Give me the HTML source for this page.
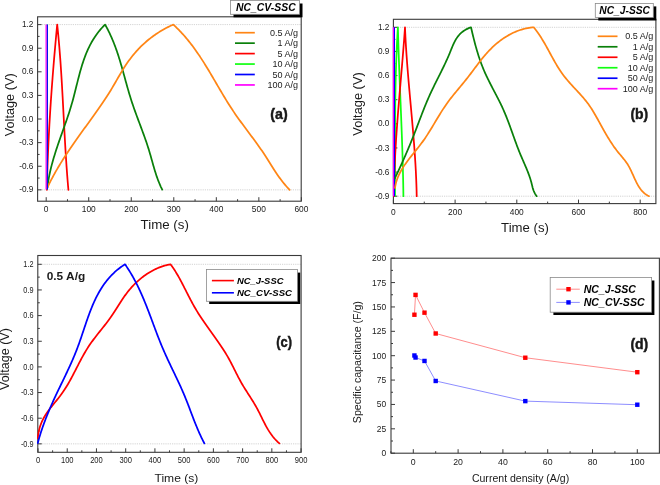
<!DOCTYPE html><html><head><meta charset="utf-8"><style>html,body{margin:0;padding:0;background:#fff;}svg{display:block;will-change:transform;}text{font-family:"Liberation Sans", sans-serif;}</style></head><body>
<svg width="660" height="485" viewBox="0 0 660 485">
<rect width="660" height="485" fill="#fff"/>
<line x1="37.6" y1="24.6" x2="301.2" y2="24.6" stroke="#c8c8c8" stroke-width="0.8" stroke-dasharray="1.2,1"/>
<line x1="37.6" y1="189.85" x2="301.2" y2="189.85" stroke="#c8c8c8" stroke-width="0.8" stroke-dasharray="1.2,1"/>
<rect x="37.6" y="16.8" width="263.6" height="184.4" fill="none" stroke="#3a3a3a" stroke-width="1.1"/>
<line x1="37.6" y1="189.85" x2="41.6" y2="189.85" stroke="#3a3a3a" stroke-width="1.0" />
<line x1="37.6" y1="166.24" x2="41.6" y2="166.24" stroke="#3a3a3a" stroke-width="1.0" />
<line x1="37.6" y1="142.63" x2="41.6" y2="142.63" stroke="#3a3a3a" stroke-width="1.0" />
<line x1="37.6" y1="119.03" x2="41.6" y2="119.03" stroke="#3a3a3a" stroke-width="1.0" />
<line x1="37.6" y1="95.42" x2="41.6" y2="95.42" stroke="#3a3a3a" stroke-width="1.0" />
<line x1="37.6" y1="71.81" x2="41.6" y2="71.81" stroke="#3a3a3a" stroke-width="1.0" />
<line x1="37.6" y1="48.21" x2="41.6" y2="48.21" stroke="#3a3a3a" stroke-width="1.0" />
<line x1="37.6" y1="24.6" x2="41.6" y2="24.6" stroke="#3a3a3a" stroke-width="1.0" />
<line x1="37.6" y1="178.05" x2="39.6" y2="178.05" stroke="#3a3a3a" stroke-width="1.0" />
<line x1="37.6" y1="154.44" x2="39.6" y2="154.44" stroke="#3a3a3a" stroke-width="1.0" />
<line x1="37.6" y1="130.83" x2="39.6" y2="130.83" stroke="#3a3a3a" stroke-width="1.0" />
<line x1="37.6" y1="107.22" x2="39.6" y2="107.22" stroke="#3a3a3a" stroke-width="1.0" />
<line x1="37.6" y1="83.62" x2="39.6" y2="83.62" stroke="#3a3a3a" stroke-width="1.0" />
<line x1="37.6" y1="60.01" x2="39.6" y2="60.01" stroke="#3a3a3a" stroke-width="1.0" />
<line x1="37.6" y1="36.4" x2="39.6" y2="36.4" stroke="#3a3a3a" stroke-width="1.0" />
<line x1="46.2" y1="201.2" x2="46.2" y2="197.2" stroke="#3a3a3a" stroke-width="1.0" />
<line x1="88.73" y1="201.2" x2="88.73" y2="197.2" stroke="#3a3a3a" stroke-width="1.0" />
<line x1="131.26" y1="201.2" x2="131.26" y2="197.2" stroke="#3a3a3a" stroke-width="1.0" />
<line x1="173.79" y1="201.2" x2="173.79" y2="197.2" stroke="#3a3a3a" stroke-width="1.0" />
<line x1="216.32" y1="201.2" x2="216.32" y2="197.2" stroke="#3a3a3a" stroke-width="1.0" />
<line x1="258.85" y1="201.2" x2="258.85" y2="197.2" stroke="#3a3a3a" stroke-width="1.0" />
<line x1="301.38" y1="201.2" x2="301.38" y2="197.2" stroke="#3a3a3a" stroke-width="1.0" />
<line x1="67.47" y1="201.2" x2="67.47" y2="199.2" stroke="#3a3a3a" stroke-width="1.0" />
<line x1="110" y1="201.2" x2="110" y2="199.2" stroke="#3a3a3a" stroke-width="1.0" />
<line x1="152.53" y1="201.2" x2="152.53" y2="199.2" stroke="#3a3a3a" stroke-width="1.0" />
<line x1="195.06" y1="201.2" x2="195.06" y2="199.2" stroke="#3a3a3a" stroke-width="1.0" />
<line x1="237.58" y1="201.2" x2="237.58" y2="199.2" stroke="#3a3a3a" stroke-width="1.0" />
<line x1="280.12" y1="201.2" x2="280.12" y2="199.2" stroke="#3a3a3a" stroke-width="1.0" />
<path d="M46.9,189.8 L46.93,188.28 L46.96,186.76 L46.99,185.24 L47.03,183.73 L47.06,182.21 L47.1,180.69 L47.14,179.17 L47.18,177.65 L47.22,176.14 L47.26,174.62 L47.31,173.1 L47.35,171.58 L47.4,170.06 L47.45,168.55 L47.5,167.03 L47.55,165.51 L47.6,163.99 L47.65,162.47 L47.71,160.96 L47.76,159.44 L47.82,157.92 L47.88,156.4 L47.94,154.89 L48,153.37 L48.07,151.85 L48.13,150.33 L48.2,148.82 L48.26,147.3 L48.33,145.78 L48.4,144.26 L48.47,142.75 L48.54,141.23 L48.62,139.71 L48.69,138.19 L48.77,136.68 L48.84,135.16 L48.92,133.64 L49,132.13 L49.08,130.61 L49.16,129.09 L49.24,127.58 L49.33,126.06 L49.41,124.54 L49.5,123.03 L49.59,121.51 L49.68,119.99 L49.77,118.48 L49.86,116.96 L49.95,115.44 L50.04,113.93 L50.13,112.41 L50.23,110.9 L50.33,109.38 L50.42,107.86 L50.52,106.35 L50.62,104.83 L50.72,103.32 L50.82,101.8 L50.93,100.28 L51.03,98.77 L51.13,97.25 L51.24,95.74 L51.35,94.22 L51.45,92.71 L51.56,91.19 L51.67,89.68 L51.78,88.16 L51.89,86.65 L52.01,85.13 L52.12,83.62 L52.23,82.1 L52.35,80.59 L52.47,79.07 L52.58,77.56 L52.7,76.04 L52.82,74.53 L52.94,73.02 L53.06,71.5 L53.18,69.99 L53.3,68.47 L53.43,66.96 L53.55,65.44 L53.68,63.93 L53.8,62.42 L53.93,60.9 L54.06,59.39 L54.18,57.88 L54.31,56.36 L54.44,54.85 L54.57,53.34 L54.71,51.82 L54.84,50.31 L54.97,48.8 L55.11,47.28 L55.24,45.77 L55.38,44.26 L55.51,42.75 L55.65,41.23 L55.79,39.72 L55.92,38.21 L56.06,36.7 L56.2,35.18 L56.34,33.67 L56.48,32.16 L56.63,30.65 L56.77,29.13 L56.91,27.62 L57.05,26.11 L57.2,24.6 L57.2,24.6 L57.36,26.11 L57.52,27.62 L57.68,29.13 L57.83,30.64 L57.98,32.15 L58.13,33.66 L58.27,35.17 L58.41,36.68 L58.55,38.2 L58.69,39.71 L58.83,41.22 L58.96,42.73 L59.09,44.24 L59.22,45.76 L59.35,47.27 L59.47,48.78 L59.59,50.3 L59.71,51.81 L59.83,53.32 L59.95,54.84 L60.06,56.35 L60.18,57.87 L60.29,59.38 L60.4,60.9 L60.51,62.41 L60.61,63.93 L60.72,65.44 L60.82,66.96 L60.92,68.47 L61.02,69.99 L61.12,71.5 L61.22,73.02 L61.32,74.53 L61.41,76.05 L61.51,77.57 L61.6,79.08 L61.69,80.6 L61.78,82.12 L61.87,83.63 L61.96,85.15 L62.05,86.67 L62.13,88.18 L62.22,89.7 L62.3,91.22 L62.39,92.74 L62.47,94.25 L62.56,95.77 L62.64,97.29 L62.72,98.8 L62.8,100.32 L62.88,101.84 L62.96,103.36 L63.04,104.88 L63.12,106.39 L63.2,107.91 L63.28,109.43 L63.36,110.95 L63.44,112.46 L63.52,113.98 L63.6,115.5 L63.68,117.02 L63.76,118.54 L63.84,120.05 L63.92,121.57 L64,123.09 L64.08,124.61 L64.16,126.13 L64.24,127.64 L64.32,129.16 L64.4,130.68 L64.48,132.2 L64.56,133.71 L64.65,135.23 L64.73,136.75 L64.81,138.27 L64.9,139.78 L64.98,141.3 L65.07,142.82 L65.16,144.34 L65.25,145.85 L65.33,147.37 L65.42,148.89 L65.52,150.4 L65.61,151.92 L65.7,153.44 L65.8,154.95 L65.89,156.47 L65.99,157.99 L66.09,159.5 L66.19,161.02 L66.29,162.54 L66.39,164.05 L66.49,165.57 L66.6,167.08 L66.71,168.6 L66.82,170.11 L66.93,171.63 L67.04,173.15 L67.15,174.66 L67.27,176.17 L67.39,177.69 L67.51,179.2 L67.63,180.72 L67.75,182.23 L67.88,183.75 L68,185.26 L68.13,186.77 L68.27,188.29 L68.4,189.8" fill="none" stroke="#ff0000" stroke-width="1.75" stroke-linejoin="round" stroke-linecap="round"/>
<path d="M47.4,188 L47.57,186.48 L47.76,184.97 L47.96,183.46 L48.18,181.95 L48.42,180.45 L48.67,178.95 L48.94,177.45 L49.22,175.96 L49.52,174.47 L49.83,172.99 L50.15,171.51 L50.49,170.03 L50.84,168.55 L51.2,167.08 L51.57,165.61 L51.96,164.14 L52.35,162.68 L52.75,161.21 L53.17,159.75 L53.59,158.3 L54.03,156.84 L54.47,155.38 L54.92,153.93 L55.37,152.48 L55.84,151.03 L56.31,149.58 L56.78,148.13 L57.26,146.69 L57.75,145.24 L58.24,143.79 L58.74,142.35 L59.24,140.91 L59.74,139.46 L60.25,138.02 L60.76,136.58 L61.27,135.13 L61.78,133.69 L62.3,132.25 L62.81,130.8 L63.33,129.36 L63.84,127.91 L64.35,126.47 L64.87,125.02 L65.37,123.57 L65.88,122.12 L66.38,120.67 L66.88,119.22 L67.38,117.77 L67.87,116.32 L68.35,114.86 L68.83,113.4 L69.31,111.94 L69.77,110.48 L70.23,109.01 L70.68,107.55 L71.13,106.08 L71.56,104.6 L71.98,103.13 L72.4,101.65 L72.81,100.17 L73.21,98.69 L73.6,97.21 L73.99,95.72 L74.37,94.24 L74.75,92.75 L75.13,91.27 L75.5,89.78 L75.87,88.29 L76.24,86.81 L76.61,85.33 L76.98,83.84 L77.36,82.36 L77.73,80.88 L78.1,79.41 L78.48,77.93 L78.87,76.46 L79.26,74.99 L79.65,73.53 L80.05,72.06 L80.46,70.61 L80.87,69.15 L81.3,67.71 L81.73,66.26 L82.17,64.82 L82.63,63.39 L83.1,61.97 L83.57,60.55 L84.07,59.13 L84.57,57.73 L85.09,56.33 L85.63,54.94 L86.18,53.55 L86.75,52.18 L87.34,50.81 L87.94,49.45 L88.57,48.1 L89.21,46.76 L89.88,45.43 L90.57,44.11 L91.27,42.8 L92.01,41.5 L92.76,40.21 L93.54,38.93 L94.35,37.67 L95.18,36.41 L96.04,35.17 L96.93,33.94 L97.84,32.73 L98.78,31.52 L99.76,30.33 L100.76,29.16 L101.8,28 L102.86,26.85 L103.96,25.71 L105.1,24.6 L105.1,24.6 L105.88,25.99 L106.63,27.38 L107.37,28.77 L108.08,30.16 L108.78,31.56 L109.46,32.96 L110.12,34.36 L110.77,35.76 L111.4,37.16 L112.01,38.57 L112.6,39.97 L113.19,41.38 L113.75,42.79 L114.31,44.21 L114.85,45.62 L115.38,47.03 L115.9,48.45 L116.4,49.87 L116.9,51.29 L117.38,52.71 L117.85,54.13 L118.32,55.56 L118.78,56.98 L119.22,58.41 L119.67,59.84 L120.1,61.27 L120.53,62.7 L120.95,64.13 L121.37,65.57 L121.78,67 L122.19,68.44 L122.59,69.87 L122.99,71.31 L123.39,72.75 L123.79,74.19 L124.19,75.63 L124.58,77.07 L124.98,78.51 L125.38,79.95 L125.77,81.4 L126.17,82.84 L126.57,84.29 L126.98,85.73 L127.38,87.18 L127.79,88.63 L128.21,90.08 L128.63,91.53 L129.05,92.97 L129.49,94.42 L129.92,95.87 L130.37,97.33 L130.82,98.78 L131.28,100.23 L131.76,101.68 L132.23,103.13 L132.72,104.58 L133.22,106.04 L133.72,107.49 L134.23,108.94 L134.75,110.4 L135.27,111.85 L135.8,113.3 L136.33,114.76 L136.87,116.21 L137.41,117.66 L137.95,119.12 L138.49,120.57 L139.03,122.02 L139.58,123.48 L140.12,124.93 L140.67,126.38 L141.21,127.83 L141.75,129.29 L142.29,130.74 L142.82,132.19 L143.35,133.64 L143.88,135.09 L144.4,136.54 L144.92,137.99 L145.43,139.44 L145.94,140.89 L146.43,142.34 L146.92,143.79 L147.4,145.23 L147.87,146.68 L148.33,148.13 L148.78,149.57 L149.22,151.01 L149.65,152.46 L150.08,153.9 L150.49,155.34 L150.9,156.78 L151.3,158.22 L151.71,159.66 L152.11,161.1 L152.51,162.54 L152.91,163.97 L153.32,165.41 L153.73,166.84 L154.15,168.27 L154.58,169.7 L155.01,171.13 L155.46,172.56 L155.92,173.99 L156.39,175.42 L156.88,176.84 L157.38,178.27 L157.9,179.69 L158.45,181.11 L159.01,182.53 L159.6,183.95 L160.21,185.36 L160.84,186.78 L161.51,188.19 L162.2,189.6" fill="none" stroke="#0a800a" stroke-width="1.75" stroke-linejoin="round" stroke-linecap="round"/>
<path d="M47.4,187.5 L48.05,186.13 L48.72,184.77 L49.39,183.42 L50.07,182.07 L50.76,180.72 L51.45,179.38 L52.16,178.05 L52.87,176.72 L53.59,175.39 L54.32,174.07 L55.06,172.75 L55.8,171.44 L56.55,170.13 L57.31,168.83 L58.07,167.53 L58.85,166.24 L59.62,164.94 L60.41,163.66 L61.2,162.37 L61.99,161.09 L62.8,159.81 L63.6,158.54 L64.42,157.27 L65.24,156 L66.06,154.73 L66.89,153.47 L67.72,152.21 L68.56,150.95 L69.4,149.7 L70.25,148.45 L71.1,147.19 L71.96,145.95 L72.82,144.7 L73.68,143.45 L74.55,142.21 L75.42,140.97 L76.29,139.73 L77.17,138.49 L78.05,137.25 L78.93,136.01 L79.81,134.78 L80.7,133.54 L81.59,132.31 L82.48,131.08 L83.37,129.84 L84.26,128.61 L85.16,127.38 L86.05,126.14 L86.95,124.91 L87.85,123.68 L88.74,122.45 L89.64,121.21 L90.53,119.98 L91.43,118.75 L92.32,117.51 L93.21,116.28 L94.1,115.04 L94.99,113.8 L95.87,112.56 L96.75,111.32 L97.63,110.08 L98.5,108.84 L99.37,107.59 L100.24,106.35 L101.1,105.1 L101.96,103.85 L102.81,102.59 L103.65,101.34 L104.49,100.08 L105.32,98.82 L106.15,97.56 L106.97,96.29 L107.78,95.03 L108.59,93.76 L109.39,92.48 L110.17,91.2 L110.96,89.92 L111.73,88.64 L112.49,87.35 L113.25,86.06 L114.01,84.77 L114.75,83.48 L115.5,82.19 L116.25,80.9 L116.99,79.61 L117.74,78.31 L118.49,77.02 L119.24,75.74 L119.99,74.45 L120.75,73.17 L121.52,71.89 L122.29,70.61 L123.07,69.34 L123.86,68.08 L124.67,66.82 L125.48,65.56 L126.31,64.31 L127.15,63.07 L128.01,61.84 L128.88,60.61 L129.77,59.4 L130.68,58.19 L131.61,56.99 L132.55,55.8 L133.51,54.63 L134.48,53.46 L135.48,52.31 L136.49,51.17 L137.51,50.04 L138.56,48.92 L139.62,47.82 L140.7,46.73 L141.79,45.66 L142.91,44.6 L144.04,43.56 L145.18,42.53 L146.34,41.52 L147.52,40.53 L148.71,39.55 L149.92,38.59 L151.14,37.65 L152.37,36.73 L153.61,35.82 L154.87,34.93 L156.13,34.07 L157.41,33.22 L158.69,32.39 L159.99,31.57 L161.29,30.78 L162.6,30.01 L163.92,29.26 L165.24,28.53 L166.58,27.82 L167.91,27.13 L169.25,26.47 L170.6,25.82 L171.95,25.2 L173.3,24.6 L173.3,24.6 L174.44,25.65 L175.57,26.72 L176.68,27.79 L177.78,28.87 L178.86,29.96 L179.92,31.06 L180.97,32.17 L182.01,33.29 L183.03,34.41 L184.04,35.54 L185.04,36.69 L186.02,37.83 L186.99,38.99 L187.95,40.15 L188.9,41.33 L189.84,42.5 L190.76,43.69 L191.68,44.88 L192.58,46.08 L193.47,47.28 L194.36,48.49 L195.24,49.71 L196.1,50.93 L196.96,52.15 L197.81,53.39 L198.65,54.62 L199.49,55.86 L200.31,57.11 L201.13,58.36 L201.95,59.62 L202.76,60.88 L203.56,62.14 L204.36,63.4 L205.15,64.68 L205.94,65.95 L206.72,67.23 L207.5,68.5 L208.27,69.79 L209.05,71.07 L209.81,72.36 L210.58,73.65 L211.35,74.94 L212.11,76.23 L212.87,77.53 L213.63,78.82 L214.39,80.12 L215.15,81.42 L215.9,82.72 L216.66,84.02 L217.42,85.32 L218.18,86.62 L218.94,87.92 L219.7,89.22 L220.47,90.52 L221.24,91.82 L222.01,93.12 L222.78,94.41 L223.56,95.71 L224.34,97.01 L225.12,98.3 L225.91,99.59 L226.7,100.88 L227.5,102.17 L228.3,103.46 L229.11,104.74 L229.93,106.02 L230.75,107.3 L231.58,108.57 L232.42,109.84 L233.26,111.11 L234.11,112.38 L234.97,113.64 L235.84,114.9 L236.71,116.15 L237.6,117.4 L238.48,118.65 L239.38,119.89 L240.27,121.13 L241.18,122.37 L242.08,123.61 L242.99,124.85 L243.9,126.08 L244.82,127.31 L245.73,128.54 L246.65,129.77 L247.56,131 L248.48,132.22 L249.4,133.45 L250.31,134.67 L251.22,135.9 L252.13,137.12 L253.04,138.34 L253.95,139.57 L254.85,140.79 L255.74,142.01 L256.63,143.24 L257.52,144.46 L258.39,145.69 L259.26,146.92 L260.13,148.15 L260.98,149.38 L261.83,150.61 L262.67,151.84 L263.5,153.08 L264.31,154.32 L265.12,155.56 L265.92,156.8 L266.72,158.04 L267.5,159.29 L268.29,160.54 L269.07,161.78 L269.85,163.03 L270.63,164.27 L271.41,165.52 L272.2,166.76 L272.99,168.01 L273.78,169.25 L274.58,170.49 L275.4,171.73 L276.22,172.96 L277.05,174.19 L277.9,175.42 L278.76,176.65 L279.64,177.87 L280.53,179.09 L281.45,180.3 L282.38,181.51 L283.33,182.71 L284.31,183.91 L285.32,185.1 L286.34,186.29 L287.4,187.47 L288.49,188.64 L289.6,189.8" fill="none" stroke="#ff8515" stroke-width="1.75" stroke-linejoin="round" stroke-linecap="round"/>
<line x1="47.3" y1="189.5" x2="47.3" y2="24.6" stroke="#10ff10" stroke-width="1.2" />
<line x1="47.3" y1="189.5" x2="47.3" y2="24.6" stroke="#0000ff" stroke-width="1.25" />
<line x1="46.1" y1="189.5" x2="46.1" y2="24.6" stroke="#ff00ff" stroke-width="1.2" />
<text transform="translate(33.4,192.45) scale(0.92,1)" font-size="9" text-anchor="end" font-weight="normal" font-style="normal" fill="#1a1a1a" >-0.9</text>
<text transform="translate(33.4,168.84) scale(0.92,1)" font-size="9" text-anchor="end" font-weight="normal" font-style="normal" fill="#1a1a1a" >-0.6</text>
<text transform="translate(33.4,145.23) scale(0.92,1)" font-size="9" text-anchor="end" font-weight="normal" font-style="normal" fill="#1a1a1a" >-0.3</text>
<text transform="translate(33.4,121.63) scale(0.92,1)" font-size="9" text-anchor="end" font-weight="normal" font-style="normal" fill="#1a1a1a" >0.0</text>
<text transform="translate(33.4,98.02) scale(0.92,1)" font-size="9" text-anchor="end" font-weight="normal" font-style="normal" fill="#1a1a1a" >0.3</text>
<text transform="translate(33.4,74.41) scale(0.92,1)" font-size="9" text-anchor="end" font-weight="normal" font-style="normal" fill="#1a1a1a" >0.6</text>
<text transform="translate(33.4,50.81) scale(0.92,1)" font-size="9" text-anchor="end" font-weight="normal" font-style="normal" fill="#1a1a1a" >0.9</text>
<text transform="translate(33.4,27.2) scale(0.92,1)" font-size="9" text-anchor="end" font-weight="normal" font-style="normal" fill="#1a1a1a" >1.2</text>
<text x="46.2" y="212.2" font-size="8.4" text-anchor="middle" font-weight="normal" font-style="normal" fill="#1a1a1a" >0</text>
<text x="88.73" y="212.2" font-size="8.4" text-anchor="middle" font-weight="normal" font-style="normal" fill="#1a1a1a" >100</text>
<text x="131.26" y="212.2" font-size="8.4" text-anchor="middle" font-weight="normal" font-style="normal" fill="#1a1a1a" >200</text>
<text x="173.79" y="212.2" font-size="8.4" text-anchor="middle" font-weight="normal" font-style="normal" fill="#1a1a1a" >300</text>
<text x="216.32" y="212.2" font-size="8.4" text-anchor="middle" font-weight="normal" font-style="normal" fill="#1a1a1a" >400</text>
<text x="258.85" y="212.2" font-size="8.4" text-anchor="middle" font-weight="normal" font-style="normal" fill="#1a1a1a" >500</text>
<text x="301.38" y="212.2" font-size="8.4" text-anchor="middle" font-weight="normal" font-style="normal" fill="#1a1a1a" >600</text>
<text x="140.6" y="228.6" font-size="12.6" text-anchor="start" font-weight="normal" font-style="normal" fill="#1a1a1a" textLength="48.3" lengthAdjust="spacingAndGlyphs" >Time (s)</text>
<text x="0" y="0" font-size="12.6" text-anchor="start" font-weight="normal" font-style="normal" fill="#1a1a1a" textLength="63" lengthAdjust="spacingAndGlyphs" transform="translate(14.1,136.3) rotate(-90)">Voltage (V)</text>
<line x1="235" y1="32.7" x2="254.8" y2="32.7" stroke="#ff8515" stroke-width="1.7" />
<text x="298.1" y="35.8" font-size="9" text-anchor="end" font-weight="normal" font-style="normal" fill="#1a1a1a" >0.5 A/g</text>
<line x1="235" y1="43.15" x2="254.8" y2="43.15" stroke="#0a800a" stroke-width="1.7" />
<text x="298.1" y="46.25" font-size="9" text-anchor="end" font-weight="normal" font-style="normal" fill="#1a1a1a" >1 A/g</text>
<line x1="235" y1="53.6" x2="254.8" y2="53.6" stroke="#ff0000" stroke-width="1.7" />
<text x="298.1" y="56.7" font-size="9" text-anchor="end" font-weight="normal" font-style="normal" fill="#1a1a1a" >5 A/g</text>
<line x1="235" y1="64.05" x2="254.8" y2="64.05" stroke="#10ff10" stroke-width="1.7" />
<text x="298.1" y="67.15" font-size="9" text-anchor="end" font-weight="normal" font-style="normal" fill="#1a1a1a" >10 A/g</text>
<line x1="235" y1="74.5" x2="254.8" y2="74.5" stroke="#0000ff" stroke-width="1.7" />
<text x="298.1" y="77.6" font-size="9" text-anchor="end" font-weight="normal" font-style="normal" fill="#1a1a1a" >50 A/g</text>
<line x1="235" y1="84.95" x2="254.8" y2="84.95" stroke="#ff00ff" stroke-width="1.7" />
<text x="298.1" y="88.05" font-size="9" text-anchor="end" font-weight="normal" font-style="normal" fill="#1a1a1a" >100 A/g</text>
<text x="270.3" y="118.8" font-size="15.5" text-anchor="start" font-weight="bold" font-style="normal" fill="#1a1a1a" textLength="17.4" lengthAdjust="spacingAndGlyphs" stroke="#111" stroke-width="0.45">(a)</text>
<rect x="233.5" y="3.5" width="69" height="13.8" fill="#000" stroke="none" stroke-width="1"/>
<rect x="230.5" y="0.5" width="69" height="13.8" fill="#fff" stroke="#8a8a8a" stroke-width="0.8"/>
<text x="236" y="11.3" font-size="10.2" text-anchor="start" font-weight="bold" font-style="italic" fill="#000" textLength="59.7" lengthAdjust="spacingAndGlyphs" >NC_CV-SSC</text>
<line x1="393.4" y1="27.3" x2="655.9" y2="27.3" stroke="#c8c8c8" stroke-width="0.8" stroke-dasharray="1.2,1"/>
<line x1="393.4" y1="196.2" x2="655.9" y2="196.2" stroke="#c8c8c8" stroke-width="0.8" stroke-dasharray="1.2,1"/>
<rect x="393.4" y="19.3" width="262.5" height="184.3" fill="none" stroke="#3a3a3a" stroke-width="1.1"/>
<line x1="393.4" y1="196.2" x2="397.4" y2="196.2" stroke="#3a3a3a" stroke-width="1.0" />
<line x1="393.4" y1="172.07" x2="397.4" y2="172.07" stroke="#3a3a3a" stroke-width="1.0" />
<line x1="393.4" y1="147.95" x2="397.4" y2="147.95" stroke="#3a3a3a" stroke-width="1.0" />
<line x1="393.4" y1="123.82" x2="397.4" y2="123.82" stroke="#3a3a3a" stroke-width="1.0" />
<line x1="393.4" y1="99.69" x2="397.4" y2="99.69" stroke="#3a3a3a" stroke-width="1.0" />
<line x1="393.4" y1="75.56" x2="397.4" y2="75.56" stroke="#3a3a3a" stroke-width="1.0" />
<line x1="393.4" y1="51.43" x2="397.4" y2="51.43" stroke="#3a3a3a" stroke-width="1.0" />
<line x1="393.4" y1="27.3" x2="397.4" y2="27.3" stroke="#3a3a3a" stroke-width="1.0" />
<line x1="393.4" y1="184.14" x2="395.4" y2="184.14" stroke="#3a3a3a" stroke-width="1.0" />
<line x1="393.4" y1="160.01" x2="395.4" y2="160.01" stroke="#3a3a3a" stroke-width="1.0" />
<line x1="393.4" y1="135.88" x2="395.4" y2="135.88" stroke="#3a3a3a" stroke-width="1.0" />
<line x1="393.4" y1="111.75" x2="395.4" y2="111.75" stroke="#3a3a3a" stroke-width="1.0" />
<line x1="393.4" y1="87.62" x2="395.4" y2="87.62" stroke="#3a3a3a" stroke-width="1.0" />
<line x1="393.4" y1="63.49" x2="395.4" y2="63.49" stroke="#3a3a3a" stroke-width="1.0" />
<line x1="393.4" y1="39.36" x2="395.4" y2="39.36" stroke="#3a3a3a" stroke-width="1.0" />
<line x1="393.4" y1="203.6" x2="393.4" y2="199.6" stroke="#3a3a3a" stroke-width="1.0" />
<line x1="455.1" y1="203.6" x2="455.1" y2="199.6" stroke="#3a3a3a" stroke-width="1.0" />
<line x1="516.8" y1="203.6" x2="516.8" y2="199.6" stroke="#3a3a3a" stroke-width="1.0" />
<line x1="578.5" y1="203.6" x2="578.5" y2="199.6" stroke="#3a3a3a" stroke-width="1.0" />
<line x1="640.2" y1="203.6" x2="640.2" y2="199.6" stroke="#3a3a3a" stroke-width="1.0" />
<line x1="424.25" y1="203.6" x2="424.25" y2="201.6" stroke="#3a3a3a" stroke-width="1.0" />
<line x1="485.95" y1="203.6" x2="485.95" y2="201.6" stroke="#3a3a3a" stroke-width="1.0" />
<line x1="547.65" y1="203.6" x2="547.65" y2="201.6" stroke="#3a3a3a" stroke-width="1.0" />
<line x1="609.35" y1="203.6" x2="609.35" y2="201.6" stroke="#3a3a3a" stroke-width="1.0" />
<path d="M395,196.2 L395.01,194.68 L395.01,193.16 L395.01,191.63 L395.02,190.11 L395.02,188.59 L395.02,187.07 L395.03,185.55 L395.03,184.03 L395.03,182.5 L395.03,180.98 L395.03,179.46 L395.03,177.94 L395.03,176.42 L395.03,174.89 L395.03,173.37 L395.03,171.85 L395.03,170.33 L395.03,168.8 L395.03,167.28 L395.03,165.76 L395.03,164.24 L395.03,162.72 L395.03,161.19 L395.03,159.67 L395.03,158.15 L395.03,156.63 L395.03,155.1 L395.03,153.58 L395.03,152.06 L395.03,150.54 L395.03,149.02 L395.03,147.49 L395.03,145.97 L395.03,144.45 L395.04,142.93 L395.04,141.4 L395.04,139.88 L395.04,138.36 L395.05,136.84 L395.05,135.32 L395.05,133.79 L395.06,132.27 L395.06,130.75 L395.07,129.23 L395.07,127.7 L395.08,126.18 L395.09,124.66 L395.1,123.14 L395.1,121.62 L395.11,120.09 L395.12,118.57 L395.13,117.05 L395.15,115.53 L395.16,114 L395.17,112.48 L395.18,110.96 L395.2,109.44 L395.21,107.92 L395.23,106.39 L395.25,104.87 L395.26,103.35 L395.28,101.83 L395.3,100.31 L395.32,98.78 L395.35,97.26 L395.37,95.74 L395.39,94.22 L395.42,92.7 L395.45,91.18 L395.47,89.65 L395.5,88.13 L395.53,86.61 L395.56,85.09 L395.6,83.57 L395.63,82.05 L395.66,80.52 L395.7,79 L395.74,77.48 L395.78,75.96 L395.82,74.44 L395.86,72.92 L395.9,71.4 L395.95,69.87 L395.99,68.35 L396.04,66.83 L396.09,65.31 L396.14,63.79 L396.19,62.27 L396.25,60.75 L396.3,59.23 L396.36,57.71 L396.42,56.19 L396.48,54.66 L396.55,53.14 L396.61,51.62 L396.68,50.1 L396.74,48.58 L396.81,47.06 L396.89,45.54 L396.96,44.02 L397.03,42.5 L397.11,40.98 L397.19,39.46 L397.27,37.94 L397.36,36.42 L397.44,34.9 L397.53,33.38 L397.62,31.86 L397.71,30.34 L397.8,28.82 L397.9,27.3 L397.9,27.3 L397.94,28.82 L397.98,30.34 L398.02,31.87 L398.06,33.39 L398.1,34.91 L398.14,36.43 L398.19,37.95 L398.23,39.48 L398.28,41 L398.32,42.52 L398.37,44.04 L398.42,45.56 L398.46,47.09 L398.51,48.61 L398.56,50.13 L398.61,51.65 L398.67,53.17 L398.72,54.69 L398.77,56.22 L398.82,57.74 L398.88,59.26 L398.93,60.78 L398.99,62.3 L399.04,63.82 L399.1,65.34 L399.15,66.87 L399.21,68.39 L399.27,69.91 L399.33,71.43 L399.38,72.95 L399.44,74.47 L399.5,75.99 L399.56,77.52 L399.62,79.04 L399.68,80.56 L399.74,82.08 L399.8,83.6 L399.86,85.12 L399.92,86.64 L399.98,88.16 L400.04,89.69 L400.1,91.21 L400.17,92.73 L400.23,94.25 L400.29,95.77 L400.35,97.29 L400.41,98.81 L400.47,100.33 L400.53,101.86 L400.6,103.38 L400.66,104.9 L400.72,106.42 L400.78,107.94 L400.84,109.46 L400.9,110.98 L400.96,112.5 L401.02,114.03 L401.08,115.55 L401.14,117.07 L401.2,118.59 L401.26,120.11 L401.32,121.63 L401.38,123.15 L401.44,124.67 L401.5,126.2 L401.56,127.72 L401.61,129.24 L401.67,130.76 L401.73,132.28 L401.78,133.8 L401.84,135.32 L401.89,136.85 L401.95,138.37 L402,139.89 L402.05,141.41 L402.11,142.93 L402.16,144.45 L402.21,145.97 L402.26,147.5 L402.31,149.02 L402.36,150.54 L402.41,152.06 L402.46,153.58 L402.5,155.1 L402.55,156.63 L402.6,158.15 L402.64,159.67 L402.68,161.19 L402.73,162.71 L402.77,164.23 L402.81,165.76 L402.85,167.28 L402.89,168.8 L402.93,170.32 L402.96,171.84 L403,173.37 L403.04,174.89 L403.07,176.41 L403.1,177.93 L403.13,179.45 L403.16,180.98 L403.19,182.5 L403.22,184.02 L403.25,185.54 L403.27,187.07 L403.3,188.59 L403.32,190.11 L403.34,191.63 L403.36,193.15 L403.38,194.68 L403.4,196.2" fill="none" stroke="#10ff10" stroke-width="1.75" stroke-linejoin="round" stroke-linecap="round"/>
<path d="M394,196.2 L394.01,194.67 L394.02,193.15 L394.03,191.62 L394.04,190.1 L394.06,188.57 L394.09,187.05 L394.11,185.52 L394.14,183.99 L394.17,182.47 L394.21,180.95 L394.24,179.42 L394.28,177.9 L394.33,176.37 L394.37,174.85 L394.42,173.32 L394.47,171.8 L394.52,170.27 L394.58,168.75 L394.64,167.23 L394.7,165.7 L394.76,164.18 L394.83,162.66 L394.9,161.13 L394.97,159.61 L395.04,158.09 L395.12,156.56 L395.19,155.04 L395.27,153.52 L395.35,151.99 L395.44,150.47 L395.52,148.95 L395.61,147.43 L395.7,145.91 L395.79,144.38 L395.88,142.86 L395.98,141.34 L396.07,139.82 L396.17,138.29 L396.27,136.77 L396.37,135.25 L396.48,133.73 L396.58,132.21 L396.69,130.69 L396.8,129.16 L396.9,127.64 L397.02,126.12 L397.13,124.6 L397.24,123.08 L397.35,121.56 L397.47,120.04 L397.59,118.52 L397.7,117 L397.82,115.47 L397.94,113.95 L398.06,112.43 L398.18,110.91 L398.31,109.39 L398.43,107.87 L398.55,106.35 L398.68,104.83 L398.8,103.31 L398.93,101.79 L399.06,100.27 L399.18,98.75 L399.31,97.23 L399.44,95.71 L399.57,94.19 L399.7,92.67 L399.83,91.15 L399.95,89.63 L400.08,88.11 L400.21,86.59 L400.35,85.07 L400.48,83.55 L400.61,82.03 L400.74,80.51 L400.87,78.99 L401,77.47 L401.13,75.95 L401.26,74.43 L401.39,72.91 L401.52,71.39 L401.65,69.87 L401.78,68.35 L401.91,66.83 L402.04,65.31 L402.16,63.79 L402.29,62.27 L402.42,60.75 L402.55,59.23 L402.67,57.71 L402.8,56.19 L402.92,54.67 L403.05,53.15 L403.17,51.62 L403.29,50.1 L403.41,48.58 L403.53,47.06 L403.65,45.54 L403.77,44.02 L403.89,42.5 L404.01,40.98 L404.12,39.46 L404.24,37.94 L404.35,36.42 L404.46,34.9 L404.57,33.38 L404.68,31.86 L404.79,30.34 L404.89,28.82 L405,27.3 L405,27.3 L405.06,28.82 L405.13,30.35 L405.19,31.87 L405.26,33.4 L405.34,34.92 L405.41,36.44 L405.49,37.97 L405.57,39.49 L405.65,41.01 L405.74,42.53 L405.83,44.06 L405.92,45.58 L406.01,47.1 L406.11,48.62 L406.21,50.15 L406.31,51.67 L406.41,53.19 L406.51,54.71 L406.62,56.23 L406.73,57.75 L406.84,59.27 L406.95,60.79 L407.06,62.32 L407.18,63.84 L407.29,65.36 L407.41,66.88 L407.53,68.4 L407.65,69.92 L407.78,71.44 L407.9,72.96 L408.03,74.48 L408.15,76 L408.28,77.52 L408.41,79.04 L408.54,80.56 L408.67,82.08 L408.8,83.6 L408.93,85.12 L409.07,86.64 L409.2,88.16 L409.33,89.68 L409.47,91.19 L409.61,92.71 L409.74,94.23 L409.88,95.75 L410.01,97.27 L410.15,98.79 L410.29,100.31 L410.43,101.83 L410.56,103.35 L410.7,104.87 L410.84,106.39 L410.98,107.91 L411.11,109.43 L411.25,110.95 L411.39,112.47 L411.52,113.99 L411.66,115.5 L411.79,117.02 L411.93,118.54 L412.06,120.06 L412.2,121.58 L412.33,123.1 L412.46,124.62 L412.6,126.14 L412.73,127.66 L412.86,129.18 L412.98,130.7 L413.11,132.22 L413.24,133.74 L413.36,135.26 L413.49,136.78 L413.61,138.3 L413.73,139.82 L413.85,141.35 L413.97,142.87 L414.09,144.39 L414.2,145.91 L414.32,147.43 L414.43,148.95 L414.54,150.47 L414.65,151.99 L414.75,153.52 L414.86,155.04 L414.96,156.56 L415.06,158.08 L415.16,159.6 L415.25,161.13 L415.35,162.65 L415.44,164.17 L415.53,165.7 L415.61,167.22 L415.7,168.74 L415.78,170.27 L415.86,171.79 L415.93,173.31 L416,174.84 L416.07,176.36 L416.14,177.89 L416.21,179.41 L416.27,180.94 L416.33,182.46 L416.38,183.99 L416.43,185.51 L416.48,187.04 L416.53,188.57 L416.57,190.09 L416.61,191.62 L416.64,193.15 L416.67,194.67 L416.7,196.2" fill="none" stroke="#ff0000" stroke-width="1.75" stroke-linejoin="round" stroke-linecap="round"/>
<line x1="394.4" y1="196.2" x2="394.4" y2="27.3" stroke="#0000ff" stroke-width="1.2" />
<line x1="393.4" y1="196.2" x2="393.4" y2="27.3" stroke="#ff00ff" stroke-width="1.2" />
<path d="M395,178 L395.66,176.62 L396.32,175.24 L396.98,173.86 L397.63,172.48 L398.28,171.1 L398.93,169.71 L399.57,168.33 L400.21,166.94 L400.85,165.56 L401.48,164.17 L402.11,162.78 L402.73,161.39 L403.36,160 L403.97,158.6 L404.59,157.21 L405.2,155.82 L405.81,154.42 L406.41,153.02 L407.01,151.63 L407.6,150.23 L408.2,148.83 L408.78,147.44 L409.37,146.04 L409.95,144.64 L410.53,143.24 L411.1,141.84 L411.67,140.44 L412.24,139.04 L412.8,137.63 L413.35,136.23 L413.91,134.83 L414.46,133.43 L415,132.03 L415.55,130.62 L416.09,129.22 L416.62,127.82 L417.16,126.41 L417.69,125.01 L418.23,123.61 L418.76,122.21 L419.29,120.8 L419.83,119.4 L420.36,118 L420.9,116.6 L421.44,115.19 L421.98,113.79 L422.52,112.39 L423.07,110.99 L423.62,109.59 L424.18,108.19 L424.74,106.79 L425.31,105.39 L425.88,103.99 L426.47,102.59 L427.05,101.2 L427.65,99.8 L428.25,98.4 L428.87,97.01 L429.49,95.61 L430.12,94.22 L430.76,92.83 L431.41,91.43 L432.07,90.04 L432.73,88.65 L433.4,87.26 L434.08,85.87 L434.76,84.48 L435.45,83.1 L436.14,81.71 L436.83,80.32 L437.52,78.94 L438.22,77.55 L438.91,76.17 L439.61,74.79 L440.3,73.41 L440.98,72.02 L441.67,70.64 L442.35,69.26 L443.03,67.88 L443.7,66.5 L444.36,65.13 L445.01,63.75 L445.66,62.37 L446.3,60.99 L446.92,59.62 L447.54,58.24 L448.15,56.87 L448.74,55.49 L449.32,54.12 L449.88,52.75 L450.43,51.38 L450.98,50.01 L451.52,48.65 L452.07,47.3 L452.63,45.97 L453.21,44.64 L453.81,43.34 L454.43,42.06 L455.09,40.8 L455.79,39.57 L456.54,38.37 L457.34,37.2 L458.19,36.07 L459.11,34.98 L460.09,33.92 L461.15,32.91 L462.29,31.95 L463.51,31.03 L464.81,30.17 L466.21,29.36 L467.71,28.61 L469.3,27.92 L471,27.3 L471,27.3 L471.35,28.79 L471.7,30.28 L472.05,31.77 L472.4,33.25 L472.76,34.72 L473.12,36.19 L473.48,37.66 L473.84,39.12 L474.22,40.58 L474.59,42.04 L474.97,43.49 L475.36,44.93 L475.76,46.38 L476.16,47.82 L476.57,49.26 L476.99,50.69 L477.42,52.12 L477.85,53.55 L478.3,54.98 L478.75,56.4 L479.22,57.82 L479.7,59.24 L480.19,60.65 L480.7,62.06 L481.21,63.47 L481.74,64.88 L482.29,66.28 L482.84,67.69 L483.42,69.09 L484.01,70.49 L484.61,71.88 L485.23,73.28 L485.87,74.67 L486.52,76.06 L487.18,77.45 L487.85,78.84 L488.53,80.23 L489.23,81.62 L489.93,83.01 L490.63,84.39 L491.35,85.77 L492.06,87.16 L492.78,88.54 L493.5,89.92 L494.23,91.3 L494.95,92.68 L495.67,94.07 L496.39,95.45 L497.1,96.83 L497.81,98.21 L498.52,99.59 L499.21,100.97 L499.9,102.35 L500.58,103.73 L501.25,105.11 L501.9,106.49 L502.54,107.88 L503.17,109.26 L503.78,110.64 L504.38,112.03 L504.97,113.41 L505.55,114.8 L506.11,116.19 L506.67,117.58 L507.21,118.97 L507.75,120.35 L508.28,121.74 L508.8,123.14 L509.31,124.53 L509.82,125.92 L510.33,127.31 L510.83,128.7 L511.33,130.1 L511.83,131.49 L512.33,132.89 L512.82,134.28 L513.32,135.68 L513.82,137.08 L514.32,138.48 L514.82,139.87 L515.32,141.27 L515.84,142.67 L516.35,144.07 L516.87,145.47 L517.4,146.87 L517.94,148.28 L518.49,149.68 L519.04,151.08 L519.61,152.48 L520.18,153.89 L520.77,155.29 L521.37,156.7 L521.97,158.1 L522.58,159.51 L523.2,160.91 L523.81,162.32 L524.42,163.73 L525.03,165.14 L525.63,166.54 L526.23,167.95 L526.81,169.36 L527.38,170.77 L527.94,172.18 L528.48,173.59 L529,175 L529.51,176.41 L529.98,177.82 L530.44,179.24 L530.86,180.65 L531.25,182.06 L531.62,183.47 L531.96,184.89 L532.3,186.3 L532.66,187.71 L533.08,189.13 L533.56,190.54 L534.14,191.96 L534.84,193.37 L535.69,194.79 L536.7,196.2" fill="none" stroke="#0a800a" stroke-width="1.75" stroke-linejoin="round" stroke-linecap="round"/>
<path d="M395,188 L395.22,186.49 L395.5,185.01 L395.83,183.54 L396.21,182.1 L396.64,180.68 L397.11,179.28 L397.62,177.89 L398.18,176.53 L398.78,175.18 L399.41,173.84 L400.08,172.52 L400.78,171.22 L401.52,169.93 L402.28,168.65 L403.07,167.38 L403.89,166.12 L404.73,164.87 L405.59,163.63 L406.47,162.4 L407.37,161.18 L408.28,159.96 L409.21,158.75 L410.15,157.54 L411.1,156.34 L412.05,155.14 L413.01,153.94 L413.98,152.74 L414.94,151.54 L415.91,150.34 L416.87,149.14 L417.83,147.94 L418.79,146.73 L419.73,145.52 L420.67,144.31 L421.59,143.09 L422.5,141.86 L423.39,140.63 L424.26,139.38 L425.12,138.14 L425.97,136.88 L426.8,135.62 L427.63,134.36 L428.44,133.09 L429.24,131.81 L430.03,130.54 L430.82,129.26 L431.6,127.98 L432.37,126.7 L433.14,125.41 L433.91,124.13 L434.67,122.85 L435.44,121.56 L436.2,120.28 L436.96,119.01 L437.73,117.73 L438.5,116.46 L439.27,115.19 L440.05,113.92 L440.84,112.66 L441.63,111.4 L442.43,110.14 L443.24,108.89 L444.06,107.65 L444.89,106.41 L445.74,105.17 L446.59,103.95 L447.47,102.72 L448.35,101.5 L449.26,100.29 L450.18,99.09 L451.11,97.89 L452.05,96.69 L453,95.5 L453.96,94.31 L454.93,93.12 L455.9,91.94 L456.88,90.75 L457.86,89.57 L458.84,88.39 L459.82,87.21 L460.81,86.03 L461.79,84.85 L462.77,83.66 L463.74,82.48 L464.71,81.29 L465.67,80.1 L466.62,78.91 L467.56,77.71 L468.5,76.51 L469.42,75.3 L470.34,74.1 L471.25,72.89 L472.16,71.68 L473.07,70.47 L473.97,69.27 L474.87,68.06 L475.78,66.86 L476.68,65.66 L477.58,64.46 L478.49,63.27 L479.41,62.09 L480.33,60.91 L481.26,59.73 L482.19,58.57 L483.14,57.41 L484.09,56.26 L485.06,55.12 L486.04,53.99 L487.04,52.88 L488.05,51.77 L489.07,50.68 L490.12,49.6 L491.17,48.53 L492.25,47.48 L493.34,46.45 L494.45,45.43 L495.58,44.44 L496.72,43.46 L497.88,42.5 L499.05,41.56 L500.24,40.64 L501.45,39.74 L502.68,38.87 L503.92,38.02 L505.18,37.2 L506.46,36.4 L507.76,35.63 L509.07,34.88 L510.4,34.17 L511.74,33.48 L513.11,32.83 L514.49,32.2 L515.88,31.61 L517.3,31.05 L518.72,30.52 L520.17,30.03 L521.62,29.57 L523.09,29.15 L524.57,28.77 L526.07,28.42 L527.57,28.12 L529.09,27.85 L530.62,27.63 L532.15,27.44 L533.7,27.3 L533.7,27.3 L534.69,28.53 L535.66,29.77 L536.59,31.01 L537.51,32.27 L538.4,33.53 L539.26,34.79 L540.11,36.07 L540.94,37.35 L541.75,38.63 L542.54,39.92 L543.32,41.21 L544.09,42.51 L544.84,43.81 L545.58,45.11 L546.32,46.42 L547.04,47.73 L547.76,49.03 L548.48,50.34 L549.19,51.65 L549.9,52.96 L550.61,54.27 L551.32,55.58 L552.03,56.88 L552.75,58.19 L553.47,59.49 L554.2,60.79 L554.93,62.08 L555.68,63.37 L556.43,64.66 L557.2,65.94 L557.98,67.21 L558.78,68.48 L559.59,69.74 L560.43,71 L561.28,72.24 L562.15,73.48 L563.04,74.71 L563.96,75.93 L564.9,77.15 L565.87,78.35 L566.86,79.54 L567.86,80.73 L568.89,81.91 L569.92,83.08 L570.97,84.25 L572.02,85.41 L573.09,86.57 L574.15,87.73 L575.22,88.88 L576.29,90.02 L577.35,91.17 L578.41,92.32 L579.46,93.46 L580.5,94.6 L581.53,95.75 L582.54,96.9 L583.54,98.04 L584.51,99.19 L585.46,100.35 L586.39,101.51 L587.29,102.67 L588.16,103.84 L589,105.01 L589.82,106.19 L590.62,107.38 L591.41,108.58 L592.17,109.78 L592.92,110.99 L593.66,112.22 L594.39,113.45 L595.11,114.7 L595.83,115.95 L596.54,117.22 L597.26,118.51 L597.98,119.8 L598.7,121.11 L599.43,122.44 L600.16,123.78 L600.91,125.12 L601.66,126.48 L602.42,127.85 L603.19,129.22 L603.96,130.59 L604.74,131.97 L605.53,133.35 L606.33,134.72 L607.14,136.09 L607.95,137.45 L608.78,138.8 L609.61,140.14 L610.45,141.47 L611.3,142.79 L612.16,144.09 L613.02,145.37 L613.9,146.63 L614.79,147.87 L615.68,149.09 L616.58,150.28 L617.5,151.44 L618.42,152.58 L619.34,153.69 L620.27,154.8 L621.19,155.89 L622.1,156.99 L623.01,158.08 L623.91,159.19 L624.79,160.31 L625.65,161.45 L626.49,162.62 L627.3,163.83 L628.08,165.07 L628.83,166.35 L629.55,167.67 L630.25,169.03 L630.93,170.42 L631.59,171.84 L632.24,173.27 L632.89,174.71 L633.54,176.16 L634.18,177.61 L634.84,179.06 L635.51,180.49 L636.2,181.91 L636.92,183.3 L637.66,184.67 L638.43,186.01 L639.24,187.3 L640.09,188.55 L640.99,189.74 L641.94,190.88 L642.95,191.96 L644.02,192.97 L645.15,193.9 L646.36,194.76 L647.64,195.52 L649,196.2" fill="none" stroke="#ff8515" stroke-width="1.75" stroke-linejoin="round" stroke-linecap="round"/>
<text transform="translate(389.4,198.8) scale(0.92,1)" font-size="9" text-anchor="end" font-weight="normal" font-style="normal" fill="#1a1a1a" >-0.9</text>
<text transform="translate(389.4,174.67) scale(0.92,1)" font-size="9" text-anchor="end" font-weight="normal" font-style="normal" fill="#1a1a1a" >-0.6</text>
<text transform="translate(389.4,150.55) scale(0.92,1)" font-size="9" text-anchor="end" font-weight="normal" font-style="normal" fill="#1a1a1a" >-0.3</text>
<text transform="translate(389.4,126.42) scale(0.92,1)" font-size="9" text-anchor="end" font-weight="normal" font-style="normal" fill="#1a1a1a" >0.0</text>
<text transform="translate(389.4,102.29) scale(0.92,1)" font-size="9" text-anchor="end" font-weight="normal" font-style="normal" fill="#1a1a1a" >0.3</text>
<text transform="translate(389.4,78.16) scale(0.92,1)" font-size="9" text-anchor="end" font-weight="normal" font-style="normal" fill="#1a1a1a" >0.6</text>
<text transform="translate(389.4,54.03) scale(0.92,1)" font-size="9" text-anchor="end" font-weight="normal" font-style="normal" fill="#1a1a1a" >0.9</text>
<text transform="translate(389.4,29.9) scale(0.92,1)" font-size="9" text-anchor="end" font-weight="normal" font-style="normal" fill="#1a1a1a" >1.2</text>
<text x="393.4" y="214.6" font-size="8.4" text-anchor="middle" font-weight="normal" font-style="normal" fill="#1a1a1a" >0</text>
<text x="455.1" y="214.6" font-size="8.4" text-anchor="middle" font-weight="normal" font-style="normal" fill="#1a1a1a" >200</text>
<text x="516.8" y="214.6" font-size="8.4" text-anchor="middle" font-weight="normal" font-style="normal" fill="#1a1a1a" >400</text>
<text x="578.5" y="214.6" font-size="8.4" text-anchor="middle" font-weight="normal" font-style="normal" fill="#1a1a1a" >600</text>
<text x="640.2" y="214.6" font-size="8.4" text-anchor="middle" font-weight="normal" font-style="normal" fill="#1a1a1a" >800</text>
<text x="501.1" y="232.4" font-size="12.6" text-anchor="start" font-weight="normal" font-style="normal" fill="#1a1a1a" textLength="47.8" lengthAdjust="spacingAndGlyphs" >Time (s)</text>
<text x="0" y="0" font-size="12.6" text-anchor="start" font-weight="normal" font-style="normal" fill="#1a1a1a" textLength="63.4" lengthAdjust="spacingAndGlyphs" transform="translate(362.0,135.7) rotate(-90)">Voltage (V)</text>
<line x1="597.7" y1="36.3" x2="617.5" y2="36.3" stroke="#ff8515" stroke-width="1.7" />
<text x="653.3" y="39.4" font-size="9" text-anchor="end" font-weight="normal" font-style="normal" fill="#1a1a1a" >0.5 A/g</text>
<line x1="597.7" y1="46.78" x2="617.5" y2="46.78" stroke="#0a800a" stroke-width="1.7" />
<text x="653.3" y="49.88" font-size="9" text-anchor="end" font-weight="normal" font-style="normal" fill="#1a1a1a" >1 A/g</text>
<line x1="597.7" y1="57.26" x2="617.5" y2="57.26" stroke="#ff0000" stroke-width="1.7" />
<text x="653.3" y="60.36" font-size="9" text-anchor="end" font-weight="normal" font-style="normal" fill="#1a1a1a" >5 A/g</text>
<line x1="597.7" y1="67.74" x2="617.5" y2="67.74" stroke="#10ff10" stroke-width="1.7" />
<text x="653.3" y="70.84" font-size="9" text-anchor="end" font-weight="normal" font-style="normal" fill="#1a1a1a" >10 A/g</text>
<line x1="597.7" y1="78.22" x2="617.5" y2="78.22" stroke="#0000ff" stroke-width="1.7" />
<text x="653.3" y="81.32" font-size="9" text-anchor="end" font-weight="normal" font-style="normal" fill="#1a1a1a" >50 A/g</text>
<line x1="597.7" y1="88.7" x2="617.5" y2="88.7" stroke="#ff00ff" stroke-width="1.7" />
<text x="653.3" y="91.8" font-size="9" text-anchor="end" font-weight="normal" font-style="normal" fill="#1a1a1a" >100 A/g</text>
<text x="630.4" y="118.6" font-size="15.5" text-anchor="start" font-weight="bold" font-style="normal" fill="#1a1a1a" textLength="17.8" lengthAdjust="spacingAndGlyphs" stroke="#111" stroke-width="0.45">(b)</text>
<rect x="598.3" y="6.4" width="58" height="14.1" fill="#000" stroke="none" stroke-width="1"/>
<rect x="595.3" y="3.4" width="58" height="14.1" fill="#fff" stroke="#8a8a8a" stroke-width="0.8"/>
<text x="599.3" y="13.8" font-size="10.2" text-anchor="start" font-weight="bold" font-style="italic" fill="#000" textLength="50.7" lengthAdjust="spacingAndGlyphs" >NC_J-SSC</text>
<line x1="37.8" y1="264.3" x2="301.1" y2="264.3" stroke="#c8c8c8" stroke-width="0.8" stroke-dasharray="1.2,1"/>
<line x1="37.8" y1="443.85" x2="301.1" y2="443.85" stroke="#c8c8c8" stroke-width="0.8" stroke-dasharray="1.2,1"/>
<rect x="37.8" y="255.5" width="263.3" height="196.8" fill="none" stroke="#3a3a3a" stroke-width="1.1"/>
<line x1="37.8" y1="443.85" x2="41.8" y2="443.85" stroke="#3a3a3a" stroke-width="1.0" />
<line x1="37.8" y1="418.2" x2="41.8" y2="418.2" stroke="#3a3a3a" stroke-width="1.0" />
<line x1="37.8" y1="392.55" x2="41.8" y2="392.55" stroke="#3a3a3a" stroke-width="1.0" />
<line x1="37.8" y1="366.9" x2="41.8" y2="366.9" stroke="#3a3a3a" stroke-width="1.0" />
<line x1="37.8" y1="341.25" x2="41.8" y2="341.25" stroke="#3a3a3a" stroke-width="1.0" />
<line x1="37.8" y1="315.6" x2="41.8" y2="315.6" stroke="#3a3a3a" stroke-width="1.0" />
<line x1="37.8" y1="289.95" x2="41.8" y2="289.95" stroke="#3a3a3a" stroke-width="1.0" />
<line x1="37.8" y1="264.3" x2="41.8" y2="264.3" stroke="#3a3a3a" stroke-width="1.0" />
<line x1="37.8" y1="431.02" x2="39.8" y2="431.02" stroke="#3a3a3a" stroke-width="1.0" />
<line x1="37.8" y1="405.38" x2="39.8" y2="405.38" stroke="#3a3a3a" stroke-width="1.0" />
<line x1="37.8" y1="379.73" x2="39.8" y2="379.73" stroke="#3a3a3a" stroke-width="1.0" />
<line x1="37.8" y1="354.08" x2="39.8" y2="354.08" stroke="#3a3a3a" stroke-width="1.0" />
<line x1="37.8" y1="328.43" x2="39.8" y2="328.43" stroke="#3a3a3a" stroke-width="1.0" />
<line x1="37.8" y1="302.77" x2="39.8" y2="302.77" stroke="#3a3a3a" stroke-width="1.0" />
<line x1="37.8" y1="277.12" x2="39.8" y2="277.12" stroke="#3a3a3a" stroke-width="1.0" />
<line x1="38" y1="452.3" x2="38" y2="448.3" stroke="#3a3a3a" stroke-width="1.0" />
<line x1="67.23" y1="452.3" x2="67.23" y2="448.3" stroke="#3a3a3a" stroke-width="1.0" />
<line x1="96.46" y1="452.3" x2="96.46" y2="448.3" stroke="#3a3a3a" stroke-width="1.0" />
<line x1="125.69" y1="452.3" x2="125.69" y2="448.3" stroke="#3a3a3a" stroke-width="1.0" />
<line x1="154.92" y1="452.3" x2="154.92" y2="448.3" stroke="#3a3a3a" stroke-width="1.0" />
<line x1="184.15" y1="452.3" x2="184.15" y2="448.3" stroke="#3a3a3a" stroke-width="1.0" />
<line x1="213.38" y1="452.3" x2="213.38" y2="448.3" stroke="#3a3a3a" stroke-width="1.0" />
<line x1="242.61" y1="452.3" x2="242.61" y2="448.3" stroke="#3a3a3a" stroke-width="1.0" />
<line x1="271.84" y1="452.3" x2="271.84" y2="448.3" stroke="#3a3a3a" stroke-width="1.0" />
<line x1="301.07" y1="452.3" x2="301.07" y2="448.3" stroke="#3a3a3a" stroke-width="1.0" />
<line x1="52.62" y1="452.3" x2="52.62" y2="450.3" stroke="#3a3a3a" stroke-width="1.0" />
<line x1="81.84" y1="452.3" x2="81.84" y2="450.3" stroke="#3a3a3a" stroke-width="1.0" />
<line x1="111.08" y1="452.3" x2="111.08" y2="450.3" stroke="#3a3a3a" stroke-width="1.0" />
<line x1="140.31" y1="452.3" x2="140.31" y2="450.3" stroke="#3a3a3a" stroke-width="1.0" />
<line x1="169.53" y1="452.3" x2="169.53" y2="450.3" stroke="#3a3a3a" stroke-width="1.0" />
<line x1="198.77" y1="452.3" x2="198.77" y2="450.3" stroke="#3a3a3a" stroke-width="1.0" />
<line x1="228" y1="452.3" x2="228" y2="450.3" stroke="#3a3a3a" stroke-width="1.0" />
<line x1="257.23" y1="452.3" x2="257.23" y2="450.3" stroke="#3a3a3a" stroke-width="1.0" />
<line x1="286.46" y1="452.3" x2="286.46" y2="450.3" stroke="#3a3a3a" stroke-width="1.0" />
<path d="M37.8,438.3 L37.94,436.67 L38.13,435.07 L38.37,433.51 L38.64,431.97 L38.97,430.47 L39.33,428.99 L39.74,427.54 L40.18,426.11 L40.67,424.71 L41.2,423.33 L41.77,421.97 L42.37,420.63 L43.02,419.31 L43.7,418 L44.42,416.72 L45.18,415.44 L45.97,414.19 L46.79,412.94 L47.65,411.71 L48.54,410.48 L49.45,409.26 L50.38,408.05 L51.33,406.85 L52.3,405.65 L53.27,404.45 L54.25,403.26 L55.23,402.06 L56.22,400.87 L57.19,399.67 L58.16,398.46 L59.11,397.26 L60.05,396.04 L60.97,394.82 L61.87,393.58 L62.74,392.34 L63.6,391.09 L64.43,389.83 L65.25,388.57 L66.05,387.29 L66.84,386.02 L67.61,384.73 L68.36,383.44 L69.1,382.14 L69.84,380.84 L70.56,379.54 L71.27,378.23 L71.97,376.92 L72.67,375.6 L73.36,374.28 L74.04,372.97 L74.72,371.64 L75.4,370.32 L76.08,369 L76.75,367.68 L77.43,366.35 L78.11,365.03 L78.79,363.71 L79.47,362.39 L80.16,361.07 L80.86,359.76 L81.56,358.44 L82.27,357.14 L82.99,355.83 L83.72,354.53 L84.46,353.23 L85.21,351.94 L85.98,350.66 L86.76,349.38 L87.56,348.1 L88.37,346.84 L89.2,345.58 L90.05,344.33 L90.92,343.08 L91.81,341.85 L92.71,340.62 L93.62,339.39 L94.54,338.17 L95.47,336.95 L96.42,335.74 L97.36,334.53 L98.32,333.32 L99.28,332.12 L100.24,330.91 L101.2,329.71 L102.16,328.5 L103.12,327.3 L104.07,326.09 L105.02,324.89 L105.96,323.68 L106.9,322.46 L107.82,321.25 L108.73,320.03 L109.63,318.8 L110.52,317.57 L111.39,316.33 L112.24,315.09 L113.08,313.84 L113.91,312.59 L114.73,311.33 L115.53,310.07 L116.34,308.81 L117.13,307.55 L117.93,306.29 L118.72,305.03 L119.52,303.78 L120.32,302.52 L121.12,301.27 L121.93,300.03 L122.75,298.79 L123.59,297.56 L124.43,296.34 L125.29,295.13 L126.17,293.92 L127.07,292.73 L127.99,291.55 L128.93,290.38 L129.9,289.22 L130.88,288.08 L131.89,286.96 L132.91,285.85 L133.96,284.75 L135.03,283.68 L136.12,282.62 L137.23,281.58 L138.36,280.56 L139.51,279.57 L140.67,278.59 L141.86,277.64 L143.06,276.71 L144.28,275.8 L145.52,274.92 L146.78,274.07 L148.05,273.24 L149.35,272.44 L150.65,271.67 L151.98,270.93 L153.31,270.21 L154.67,269.53 L156.04,268.88 L157.42,268.26 L158.82,267.68 L160.23,267.13 L161.66,266.61 L163.1,266.13 L164.56,265.69 L166.02,265.28 L167.5,264.92 L169,264.59 L170.5,264.3 L170.5,264.3 L171.42,265.54 L172.32,266.79 L173.2,268.05 L174.05,269.32 L174.88,270.6 L175.7,271.88 L176.49,273.18 L177.27,274.49 L178.03,275.8 L178.78,277.11 L179.51,278.44 L180.23,279.76 L180.95,281.09 L181.65,282.43 L182.35,283.77 L183.04,285.11 L183.73,286.45 L184.41,287.79 L185.1,289.13 L185.78,290.48 L186.46,291.82 L187.14,293.16 L187.83,294.5 L188.51,295.84 L189.2,297.18 L189.9,298.51 L190.6,299.84 L191.3,301.17 L192.01,302.5 L192.73,303.82 L193.46,305.14 L194.2,306.45 L194.95,307.76 L195.71,309.06 L196.48,310.36 L197.27,311.65 L198.06,312.94 L198.87,314.22 L199.69,315.5 L200.52,316.77 L201.36,318.04 L202.2,319.3 L203.06,320.56 L203.92,321.82 L204.78,323.07 L205.66,324.32 L206.53,325.57 L207.41,326.81 L208.3,328.06 L209.18,329.3 L210.07,330.54 L210.96,331.79 L211.85,333.03 L212.74,334.27 L213.63,335.51 L214.52,336.75 L215.4,337.99 L216.28,339.24 L217.15,340.48 L218.03,341.73 L218.89,342.97 L219.75,344.22 L220.6,345.48 L221.44,346.73 L222.28,347.99 L223.11,349.26 L223.92,350.52 L224.73,351.79 L225.52,353.07 L226.3,354.35 L227.07,355.64 L227.82,356.93 L228.56,358.22 L229.29,359.53 L230,360.84 L230.7,362.15 L231.39,363.47 L232.07,364.79 L232.74,366.12 L233.41,367.45 L234.08,368.78 L234.74,370.11 L235.41,371.45 L236.08,372.78 L236.75,374.12 L237.43,375.46 L238.11,376.79 L238.81,378.13 L239.52,379.46 L240.24,380.79 L240.98,382.12 L241.73,383.45 L242.5,384.77 L243.29,386.09 L244.09,387.4 L244.9,388.71 L245.73,390.03 L246.56,391.33 L247.4,392.64 L248.24,393.95 L249.08,395.26 L249.92,396.56 L250.76,397.87 L251.59,399.18 L252.41,400.49 L253.22,401.8 L254.02,403.11 L254.81,404.43 L255.58,405.75 L256.32,407.07 L257.05,408.4 L257.76,409.73 L258.45,411.06 L259.13,412.39 L259.8,413.72 L260.45,415.05 L261.11,416.38 L261.76,417.71 L262.41,419.04 L263.06,420.36 L263.72,421.67 L264.38,422.98 L265.06,424.28 L265.75,425.57 L266.45,426.86 L267.17,428.13 L267.91,429.4 L268.68,430.65 L269.47,431.89 L270.29,433.12 L271.14,434.33 L272.03,435.52 L272.95,436.71 L273.91,437.87 L274.91,439.02 L275.96,440.14 L277.06,441.25 L278.2,442.34 L279.4,443.4" fill="none" stroke="#ff0000" stroke-width="1.75" stroke-linejoin="round" stroke-linecap="round"/>
<path d="M37.8,443 L38.2,441.52 L38.6,440.05 L39.02,438.59 L39.44,437.13 L39.88,435.67 L40.32,434.22 L40.78,432.77 L41.24,431.33 L41.72,429.9 L42.2,428.46 L42.69,427.03 L43.19,425.61 L43.7,424.19 L44.22,422.77 L44.75,421.36 L45.28,419.95 L45.82,418.54 L46.37,417.14 L46.93,415.73 L47.49,414.34 L48.06,412.94 L48.64,411.55 L49.22,410.16 L49.81,408.77 L50.41,407.38 L51.01,406 L51.62,404.62 L52.24,403.24 L52.85,401.86 L53.48,400.48 L54.11,399.1 L54.74,397.73 L55.38,396.35 L56.02,394.98 L56.67,393.61 L57.32,392.23 L57.97,390.86 L58.63,389.49 L59.29,388.12 L59.95,386.75 L60.61,385.38 L61.27,384 L61.94,382.63 L62.6,381.26 L63.27,379.89 L63.93,378.51 L64.59,377.13 L65.25,375.76 L65.91,374.38 L66.57,373 L67.22,371.62 L67.87,370.24 L68.52,368.85 L69.16,367.46 L69.8,366.08 L70.43,364.68 L71.06,363.29 L71.68,361.89 L72.3,360.5 L72.91,359.09 L73.51,357.69 L74.1,356.28 L74.69,354.87 L75.27,353.45 L75.84,352.04 L76.4,350.61 L76.95,349.19 L77.49,347.76 L78.02,346.32 L78.55,344.89 L79.07,343.45 L79.58,342.01 L80.08,340.57 L80.58,339.12 L81.08,337.68 L81.57,336.23 L82.06,334.79 L82.55,333.34 L83.03,331.89 L83.51,330.45 L84,329 L84.48,327.56 L84.96,326.12 L85.45,324.68 L85.93,323.25 L86.42,321.81 L86.92,320.38 L87.42,318.96 L87.92,317.53 L88.43,316.11 L88.94,314.7 L89.46,313.29 L89.99,311.89 L90.53,310.49 L91.07,309.1 L91.63,307.71 L92.19,306.34 L92.77,304.96 L93.36,303.6 L93.96,302.24 L94.57,300.9 L95.2,299.56 L95.84,298.23 L96.49,296.91 L97.16,295.6 L97.85,294.3 L98.56,293.01 L99.28,291.73 L100.02,290.46 L100.78,289.2 L101.56,287.96 L102.35,286.72 L103.17,285.5 L104.02,284.3 L104.88,283.1 L105.77,281.92 L106.68,280.76 L107.61,279.6 L108.57,278.47 L109.56,277.34 L110.57,276.24 L111.61,275.15 L112.67,274.07 L113.77,273.02 L114.89,271.97 L116.04,270.95 L117.23,269.94 L118.44,268.96 L119.69,267.99 L120.96,267.03 L122.28,266.1 L123.62,265.19 L125,264.3 L125,264.3 L125.89,265.59 L126.77,266.88 L127.63,268.18 L128.47,269.48 L129.3,270.79 L130.11,272.1 L130.9,273.41 L131.68,274.74 L132.45,276.06 L133.2,277.39 L133.94,278.73 L134.66,280.07 L135.37,281.41 L136.07,282.76 L136.76,284.11 L137.44,285.46 L138.1,286.82 L138.76,288.18 L139.4,289.55 L140.04,290.92 L140.66,292.29 L141.28,293.66 L141.89,295.04 L142.49,296.42 L143.08,297.8 L143.67,299.19 L144.24,300.58 L144.81,301.97 L145.38,303.36 L145.94,304.76 L146.5,306.16 L147.05,307.56 L147.59,308.96 L148.13,310.36 L148.67,311.77 L149.21,313.17 L149.74,314.58 L150.27,315.99 L150.8,317.4 L151.33,318.81 L151.85,320.23 L152.38,321.64 L152.91,323.06 L153.43,324.47 L153.96,325.89 L154.49,327.3 L155.02,328.72 L155.55,330.14 L156.09,331.55 L156.62,332.97 L157.16,334.39 L157.71,335.81 L158.26,337.22 L158.81,338.64 L159.37,340.05 L159.93,341.47 L160.5,342.88 L161.08,344.3 L161.66,345.71 L162.25,347.12 L162.84,348.53 L163.45,349.94 L164.06,351.35 L164.68,352.76 L165.31,354.16 L165.94,355.56 L166.58,356.97 L167.23,358.37 L167.88,359.77 L168.53,361.17 L169.19,362.57 L169.85,363.97 L170.51,365.36 L171.18,366.76 L171.85,368.15 L172.51,369.55 L173.18,370.94 L173.85,372.33 L174.52,373.72 L175.18,375.12 L175.85,376.51 L176.51,377.9 L177.17,379.29 L177.82,380.68 L178.48,382.06 L179.12,383.45 L179.76,384.84 L180.4,386.23 L181.03,387.62 L181.65,389 L182.27,390.39 L182.87,391.78 L183.47,393.16 L184.06,394.55 L184.64,395.94 L185.21,397.33 L185.77,398.71 L186.33,400.1 L186.88,401.49 L187.42,402.88 L187.96,404.26 L188.49,405.65 L189.02,407.04 L189.55,408.43 L190.07,409.82 L190.6,411.21 L191.12,412.6 L191.65,413.99 L192.18,415.38 L192.71,416.77 L193.24,418.17 L193.78,419.56 L194.32,420.95 L194.87,422.35 L195.43,423.74 L195.99,425.14 L196.57,426.54 L197.15,427.94 L197.74,429.34 L198.34,430.74 L198.96,432.14 L199.58,433.54 L200.22,434.95 L200.88,436.35 L201.55,437.76 L202.24,439.17 L202.94,440.58 L203.66,441.99 L204.4,443.4" fill="none" stroke="#0000ff" stroke-width="1.75" stroke-linejoin="round" stroke-linecap="round"/>
<text transform="translate(33.5,446.65) scale(0.84,1)" font-size="8.7" text-anchor="end" font-weight="normal" font-style="normal" fill="#1a1a1a" >-0.9</text>
<text transform="translate(33.5,421) scale(0.84,1)" font-size="8.7" text-anchor="end" font-weight="normal" font-style="normal" fill="#1a1a1a" >-0.6</text>
<text transform="translate(33.5,395.35) scale(0.84,1)" font-size="8.7" text-anchor="end" font-weight="normal" font-style="normal" fill="#1a1a1a" >-0.3</text>
<text transform="translate(33.5,369.7) scale(0.84,1)" font-size="8.7" text-anchor="end" font-weight="normal" font-style="normal" fill="#1a1a1a" >0.0</text>
<text transform="translate(33.5,344.05) scale(0.84,1)" font-size="8.7" text-anchor="end" font-weight="normal" font-style="normal" fill="#1a1a1a" >0.3</text>
<text transform="translate(33.5,318.4) scale(0.84,1)" font-size="8.7" text-anchor="end" font-weight="normal" font-style="normal" fill="#1a1a1a" >0.6</text>
<text transform="translate(33.5,292.75) scale(0.84,1)" font-size="8.7" text-anchor="end" font-weight="normal" font-style="normal" fill="#1a1a1a" >0.9</text>
<text transform="translate(33.5,267.1) scale(0.84,1)" font-size="8.7" text-anchor="end" font-weight="normal" font-style="normal" fill="#1a1a1a" >1.2</text>
<text transform="translate(38,463.1) scale(0.9,1)" font-size="8.4" text-anchor="middle" font-weight="normal" font-style="normal" fill="#1a1a1a" >0</text>
<text transform="translate(67.23,463.1) scale(0.9,1)" font-size="8.4" text-anchor="middle" font-weight="normal" font-style="normal" fill="#1a1a1a" >100</text>
<text transform="translate(96.46,463.1) scale(0.9,1)" font-size="8.4" text-anchor="middle" font-weight="normal" font-style="normal" fill="#1a1a1a" >200</text>
<text transform="translate(125.69,463.1) scale(0.9,1)" font-size="8.4" text-anchor="middle" font-weight="normal" font-style="normal" fill="#1a1a1a" >300</text>
<text transform="translate(154.92,463.1) scale(0.9,1)" font-size="8.4" text-anchor="middle" font-weight="normal" font-style="normal" fill="#1a1a1a" >400</text>
<text transform="translate(184.15,463.1) scale(0.9,1)" font-size="8.4" text-anchor="middle" font-weight="normal" font-style="normal" fill="#1a1a1a" >500</text>
<text transform="translate(213.38,463.1) scale(0.9,1)" font-size="8.4" text-anchor="middle" font-weight="normal" font-style="normal" fill="#1a1a1a" >600</text>
<text transform="translate(242.61,463.1) scale(0.9,1)" font-size="8.4" text-anchor="middle" font-weight="normal" font-style="normal" fill="#1a1a1a" >700</text>
<text transform="translate(271.84,463.1) scale(0.9,1)" font-size="8.4" text-anchor="middle" font-weight="normal" font-style="normal" fill="#1a1a1a" >800</text>
<text transform="translate(301.07,463.1) scale(0.9,1)" font-size="8.4" text-anchor="middle" font-weight="normal" font-style="normal" fill="#1a1a1a" >900</text>
<text x="154.5" y="481.9" font-size="11.6" text-anchor="start" font-weight="normal" font-style="normal" fill="#1a1a1a" textLength="43.8" lengthAdjust="spacingAndGlyphs" >Time (s)</text>
<text x="0" y="0" font-size="12.4" text-anchor="start" font-weight="normal" font-style="normal" fill="#1a1a1a" textLength="61.8" lengthAdjust="spacingAndGlyphs" transform="translate(9.2,390.0) rotate(-90)">Voltage (V)</text>
<text x="46.7" y="279.8" font-size="11.7" text-anchor="start" font-weight="bold" font-style="normal" fill="#1a1a1a" textLength="38.5" lengthAdjust="spacingAndGlyphs" >0.5 A/g</text>
<rect x="209.2" y="272.6" width="91" height="31.4" fill="#000" stroke="none" stroke-width="1"/>
<rect x="206.4" y="269.5" width="91" height="31.8" fill="#fff" stroke="#8a8a8a" stroke-width="0.8"/>
<line x1="211.9" y1="280.6" x2="233.9" y2="280.6" stroke="#ff0000" stroke-width="1.6" />
<line x1="211.9" y1="292.8" x2="233.9" y2="292.8" stroke="#0000ff" stroke-width="1.6" />
<text x="236.9" y="284.1" font-size="9.5" text-anchor="start" font-weight="bold" font-style="italic" fill="#000" textLength="46.6" lengthAdjust="spacingAndGlyphs" >NC_J-SSC</text>
<text x="236.9" y="296.3" font-size="9.5" text-anchor="start" font-weight="bold" font-style="italic" fill="#000" textLength="55.1" lengthAdjust="spacingAndGlyphs" >NC_CV-SSC</text>
<text x="276.3" y="346.8" font-size="15" text-anchor="start" font-weight="bold" font-style="normal" fill="#1a1a1a" textLength="15.8" lengthAdjust="spacingAndGlyphs" stroke="#111" stroke-width="0.45">(c)</text>
<rect x="391" y="258.2" width="268.4" height="195" fill="none" stroke="#3a3a3a" stroke-width="1.1"/>
<line x1="391" y1="453.2" x2="395" y2="453.2" stroke="#3a3a3a" stroke-width="1.0" />
<line x1="391" y1="428.82" x2="395" y2="428.82" stroke="#3a3a3a" stroke-width="1.0" />
<line x1="391" y1="404.45" x2="395" y2="404.45" stroke="#3a3a3a" stroke-width="1.0" />
<line x1="391" y1="380.07" x2="395" y2="380.07" stroke="#3a3a3a" stroke-width="1.0" />
<line x1="391" y1="355.7" x2="395" y2="355.7" stroke="#3a3a3a" stroke-width="1.0" />
<line x1="391" y1="331.32" x2="395" y2="331.32" stroke="#3a3a3a" stroke-width="1.0" />
<line x1="391" y1="306.95" x2="395" y2="306.95" stroke="#3a3a3a" stroke-width="1.0" />
<line x1="391" y1="282.57" x2="395" y2="282.57" stroke="#3a3a3a" stroke-width="1.0" />
<line x1="391" y1="258.2" x2="395" y2="258.2" stroke="#3a3a3a" stroke-width="1.0" />
<line x1="391" y1="441.01" x2="393" y2="441.01" stroke="#3a3a3a" stroke-width="1.0" />
<line x1="391" y1="416.64" x2="393" y2="416.64" stroke="#3a3a3a" stroke-width="1.0" />
<line x1="391" y1="392.26" x2="393" y2="392.26" stroke="#3a3a3a" stroke-width="1.0" />
<line x1="391" y1="367.89" x2="393" y2="367.89" stroke="#3a3a3a" stroke-width="1.0" />
<line x1="391" y1="343.51" x2="393" y2="343.51" stroke="#3a3a3a" stroke-width="1.0" />
<line x1="391" y1="319.14" x2="393" y2="319.14" stroke="#3a3a3a" stroke-width="1.0" />
<line x1="391" y1="294.76" x2="393" y2="294.76" stroke="#3a3a3a" stroke-width="1.0" />
<line x1="391" y1="270.39" x2="393" y2="270.39" stroke="#3a3a3a" stroke-width="1.0" />
<line x1="413.3" y1="453.2" x2="413.3" y2="449.2" stroke="#3a3a3a" stroke-width="1.0" />
<line x1="458.1" y1="453.2" x2="458.1" y2="449.2" stroke="#3a3a3a" stroke-width="1.0" />
<line x1="502.9" y1="453.2" x2="502.9" y2="449.2" stroke="#3a3a3a" stroke-width="1.0" />
<line x1="547.7" y1="453.2" x2="547.7" y2="449.2" stroke="#3a3a3a" stroke-width="1.0" />
<line x1="592.5" y1="453.2" x2="592.5" y2="449.2" stroke="#3a3a3a" stroke-width="1.0" />
<line x1="637.3" y1="453.2" x2="637.3" y2="449.2" stroke="#3a3a3a" stroke-width="1.0" />
<line x1="390.9" y1="453.2" x2="390.9" y2="451.2" stroke="#3a3a3a" stroke-width="1.0" />
<line x1="435.7" y1="453.2" x2="435.7" y2="451.2" stroke="#3a3a3a" stroke-width="1.0" />
<line x1="480.5" y1="453.2" x2="480.5" y2="451.2" stroke="#3a3a3a" stroke-width="1.0" />
<line x1="525.3" y1="453.2" x2="525.3" y2="451.2" stroke="#3a3a3a" stroke-width="1.0" />
<line x1="570.1" y1="453.2" x2="570.1" y2="451.2" stroke="#3a3a3a" stroke-width="1.0" />
<line x1="614.9" y1="453.2" x2="614.9" y2="451.2" stroke="#3a3a3a" stroke-width="1.0" />
<line x1="659.7" y1="453.2" x2="659.7" y2="451.2" stroke="#3a3a3a" stroke-width="1.0" />
<text transform="translate(386.2,456.2) scale(0.92,1)" font-size="9.2" text-anchor="end" font-weight="normal" font-style="normal" fill="#1a1a1a" >0</text>
<text transform="translate(386.2,431.82) scale(0.92,1)" font-size="9.2" text-anchor="end" font-weight="normal" font-style="normal" fill="#1a1a1a" >25</text>
<text transform="translate(386.2,407.45) scale(0.92,1)" font-size="9.2" text-anchor="end" font-weight="normal" font-style="normal" fill="#1a1a1a" >50</text>
<text transform="translate(386.2,383.07) scale(0.92,1)" font-size="9.2" text-anchor="end" font-weight="normal" font-style="normal" fill="#1a1a1a" >75</text>
<text transform="translate(386.2,358.7) scale(0.92,1)" font-size="9.2" text-anchor="end" font-weight="normal" font-style="normal" fill="#1a1a1a" >100</text>
<text transform="translate(386.2,334.32) scale(0.92,1)" font-size="9.2" text-anchor="end" font-weight="normal" font-style="normal" fill="#1a1a1a" >125</text>
<text transform="translate(386.2,309.95) scale(0.92,1)" font-size="9.2" text-anchor="end" font-weight="normal" font-style="normal" fill="#1a1a1a" >150</text>
<text transform="translate(386.2,285.57) scale(0.92,1)" font-size="9.2" text-anchor="end" font-weight="normal" font-style="normal" fill="#1a1a1a" >175</text>
<text transform="translate(386.2,261.2) scale(0.92,1)" font-size="9.2" text-anchor="end" font-weight="normal" font-style="normal" fill="#1a1a1a" >200</text>
<text transform="translate(413.3,465) scale(0.95,1)" font-size="9.2" text-anchor="middle" font-weight="normal" font-style="normal" fill="#1a1a1a" >0</text>
<text transform="translate(458.1,465) scale(0.95,1)" font-size="9.2" text-anchor="middle" font-weight="normal" font-style="normal" fill="#1a1a1a" >20</text>
<text transform="translate(502.9,465) scale(0.95,1)" font-size="9.2" text-anchor="middle" font-weight="normal" font-style="normal" fill="#1a1a1a" >40</text>
<text transform="translate(547.7,465) scale(0.95,1)" font-size="9.2" text-anchor="middle" font-weight="normal" font-style="normal" fill="#1a1a1a" >60</text>
<text transform="translate(592.5,465) scale(0.95,1)" font-size="9.2" text-anchor="middle" font-weight="normal" font-style="normal" fill="#1a1a1a" >80</text>
<text transform="translate(637.3,465) scale(0.95,1)" font-size="9.2" text-anchor="middle" font-weight="normal" font-style="normal" fill="#1a1a1a" >100</text>
<text x="471.9" y="481.8" font-size="10.6" text-anchor="start" font-weight="normal" font-style="normal" fill="#1a1a1a" textLength="97.3" lengthAdjust="spacingAndGlyphs" >Current density (A/g)</text>
<text x="0" y="0" font-size="10.6" text-anchor="start" font-weight="normal" font-style="normal" fill="#1a1a1a" textLength="122.1" lengthAdjust="spacingAndGlyphs" transform="translate(361.2,423.2) rotate(-90)">Specific capacitance (F/g)</text>
<polyline points="414.42,314.73 415.54,294.89 424.5,312.67 435.7,333.49 525.3,357.72 637.3,372.19" fill="none" stroke="#ff7070" stroke-width="0.8"/>
<rect x="412.22" y="312.53" width="4.4" height="4.4" fill="#ff0000" stroke="none" stroke-width="1"/>
<rect x="413.34" y="292.69" width="4.4" height="4.4" fill="#ff0000" stroke="none" stroke-width="1"/>
<rect x="422.3" y="310.47" width="4.4" height="4.4" fill="#ff0000" stroke="none" stroke-width="1"/>
<rect x="433.5" y="331.29" width="4.4" height="4.4" fill="#ff0000" stroke="none" stroke-width="1"/>
<rect x="523.1" y="355.52" width="4.4" height="4.4" fill="#ff0000" stroke="none" stroke-width="1"/>
<rect x="635.1" y="369.99" width="4.4" height="4.4" fill="#ff0000" stroke="none" stroke-width="1"/>
<polyline points="414.42,355.48 415.54,357.52 424.5,360.95 435.7,380.98 525.3,401.12 637.3,404.72" fill="none" stroke="#7070ff" stroke-width="0.8"/>
<rect x="412.22" y="353.28" width="4.4" height="4.4" fill="#0000ff" stroke="none" stroke-width="1"/>
<rect x="413.34" y="355.32" width="4.4" height="4.4" fill="#0000ff" stroke="none" stroke-width="1"/>
<rect x="422.3" y="358.75" width="4.4" height="4.4" fill="#0000ff" stroke="none" stroke-width="1"/>
<rect x="433.5" y="378.78" width="4.4" height="4.4" fill="#0000ff" stroke="none" stroke-width="1"/>
<rect x="523.1" y="398.92" width="4.4" height="4.4" fill="#0000ff" stroke="none" stroke-width="1"/>
<rect x="635.1" y="402.52" width="4.4" height="4.4" fill="#0000ff" stroke="none" stroke-width="1"/>
<rect x="553.4" y="280.5" width="101" height="34.5" fill="#000" stroke="none" stroke-width="1"/>
<rect x="550.2" y="277.5" width="101.4" height="34.7" fill="#fff" stroke="#8a8a8a" stroke-width="0.8"/>
<line x1="556.3" y1="289.2" x2="579.8" y2="289.2" stroke="#ff7070" stroke-width="0.8" />
<rect x="566.3" y="287" width="4.4" height="4.4" fill="#ff0000" stroke="none" stroke-width="1"/>
<line x1="556.3" y1="302.4" x2="579.8" y2="302.4" stroke="#7070ff" stroke-width="0.8" />
<rect x="566.3" y="300.2" width="4.4" height="4.4" fill="#0000ff" stroke="none" stroke-width="1"/>
<text x="583.7" y="292.9" font-size="10.4" text-anchor="start" font-weight="bold" font-style="italic" fill="#000" textLength="52.3" lengthAdjust="spacingAndGlyphs" >NC_J-SSC</text>
<text x="583.7" y="306.1" font-size="10.4" text-anchor="start" font-weight="bold" font-style="italic" fill="#000" textLength="61" lengthAdjust="spacingAndGlyphs" >NC_CV-SSC</text>
<text x="630.4" y="349" font-size="15.5" text-anchor="start" font-weight="bold" font-style="normal" fill="#1a1a1a" textLength="17.9" lengthAdjust="spacingAndGlyphs" stroke="#111" stroke-width="0.45">(d)</text>
</svg></body></html>
